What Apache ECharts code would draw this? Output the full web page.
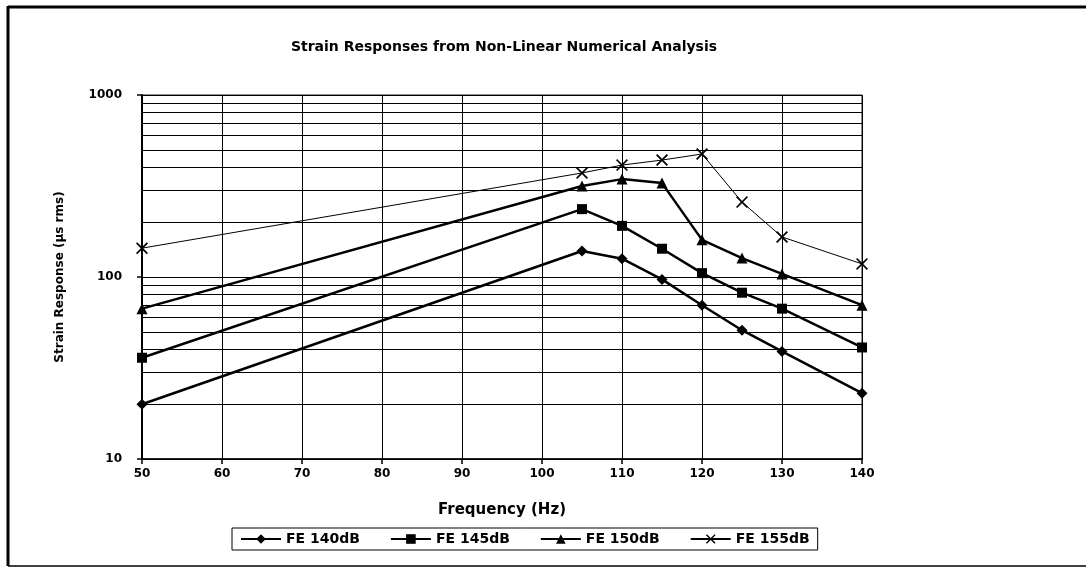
<!DOCTYPE html>
<html><head><meta charset="utf-8">
<script src="https://cdn.jsdelivr.net/npm/echarts@6/dist/echarts.min.js"></script>
<style>html,body{margin:0;padding:0;background:#fff}#c{width:1086px;height:569px}</style>
</head><body><div id="c"></div>
<script>
var titleText = 'Strain Responses from Non-Linear Numerical Analysis';
var xName = 'Frequency (Hz)';
var yName = 'Strain Response (\u00b5s rms)';
var freq = [50, 105, 110, 115, 120, 125, 130, 140];
var fe140 = [20, 139, 126, 97, 70, 51, 39, 23];
var fe145 = [36, 236, 191, 143, 105, 82, 67, 41];
var fe150 = [67, 316, 345, 328, 160, 127, 104, 70];
var fe155 = [144, 373, 412, 439, 474, 258, 166, 118];
var seriesNames = ['FE 140dB', 'FE 145dB', 'FE 150dB', 'FE 155dB'];
var minorGridValues = [20, 30, 40, 50, 60, 70, 80, 90, 200, 300, 400, 500, 600, 700, 800, 900];

var FONT = 'DejaVu Sans';
var xSym = 'path://M0,1 L1,0 L5,4 L9,0 L10,1 L6,5 L10,9 L9,10 L5,6 L1,10 L0,9 L4,5 Z';

function pairs(vals) { return freq.map(function (f, i) { return [f, vals[i]]; }); }
function lineSeries(name, vals, symbol, size, width) {
  return {
    name: name, type: 'line', data: pairs(vals), symbol: symbol, symbolSize: size,
    showSymbol: true, z: 5,
    lineStyle: { color: '#000', width: width },
    itemStyle: { color: '#000', borderWidth: 0 }
  };
}

var chart = echarts.init(document.getElementById('c'), null, { renderer: 'canvas' });
chart.setOption({
  animation: false,
  backgroundColor: '#fff',
  title: {
    text: titleText, left: 499, top: 35, textAlign: 'center',
    textStyle: { fontFamily: FONT, fontWeight: 'bold', fontSize: 14, color: '#000' }
  },
  grid: { left: 142, right: 224, top: 95, bottom: 110, show: true, borderColor: '#222', borderWidth: 1 },
  legend: {
    data: seriesNames, left: 232, top: 528, orient: 'horizontal',
    itemWidth: 40, itemHeight: 12, itemGap: 30,
    borderColor: '#000', borderWidth: 1, padding: [4, 8], borderRadius: 0,
    textStyle: { fontFamily: FONT, fontWeight: 'bold', fontSize: 14, color: '#000' }
  },
  xAxis: {
    type: 'value', min: 50, max: 140, interval: 10,
    name: xName, nameLocation: 'middle', nameGap: 44,
    nameTextStyle: { fontFamily: FONT, fontWeight: 'bold', fontSize: 15, color: '#000' },
    axisLine: { show: true, onZero: false, lineStyle: { color: '#000', width: 1.5 } },
    axisTick: { show: true, inside: false, length: 5, lineStyle: { color: '#000', width: 1.5 } },
    axisLabel: { margin: 9, fontFamily: FONT, fontWeight: 'bold', fontSize: 12, color: '#000' },
    splitLine: { show: true, lineStyle: { color: '#000', width: 1 } }
  },
  yAxis: {
    type: 'log', logBase: 10, min: 10, max: 1000,
    name: yName, nameLocation: 'middle', nameGap: 76, nameRotate: 90,
    nameTextStyle: { fontFamily: FONT, fontWeight: 'bold', fontSize: 12, color: '#000' },
    axisLine: { show: true, lineStyle: { color: '#000', width: 2 } },
    axisTick: { show: true, inside: false, length: 5, lineStyle: { color: '#000', width: 1.5 } },
    axisLabel: {
      margin: 20, fontFamily: FONT, fontWeight: 'bold', fontSize: 12, color: '#000',
      formatter: function (v) { return String(Math.round(v)); }
    },
    splitLine: { show: true, lineStyle: { color: '#000', width: 1 } }
  },
  series: [
    {
      name: 'minorGrid', type: 'line', data: [], silent: true, z: 1,
      markLine: {
        silent: true, symbol: ['none', 'none'], label: { show: false },
        lineStyle: { color: '#000', width: 1, type: 'solid' },
        data: minorGridValues.map(function (v) { return { yAxis: v }; })
      }
    },
    lineSeries(seriesNames[0], fe140, 'diamond', 11, 2.5),
    lineSeries(seriesNames[1], fe145, 'rect', 10, 2.5),
    lineSeries(seriesNames[2], fe150, 'triangle', 11, 2.5),
    lineSeries(seriesNames[3], fe155, xSym, 12, 1)
  ],
  graphic: [
    { type: 'line', shape: { x1: 8, y1: 7, x2: 1086, y2: 7 }, style: { stroke: '#000', lineWidth: 3 } },
    { type: 'line', shape: { x1: 8, y1: 6, x2: 8, y2: 566 }, style: { stroke: '#000', lineWidth: 3 } },
    { type: 'line', shape: { x1: 8, y1: 566, x2: 1086, y2: 566 }, style: { stroke: '#000', lineWidth: 1.5 } }
  ]
});
</script>
</body></html>
